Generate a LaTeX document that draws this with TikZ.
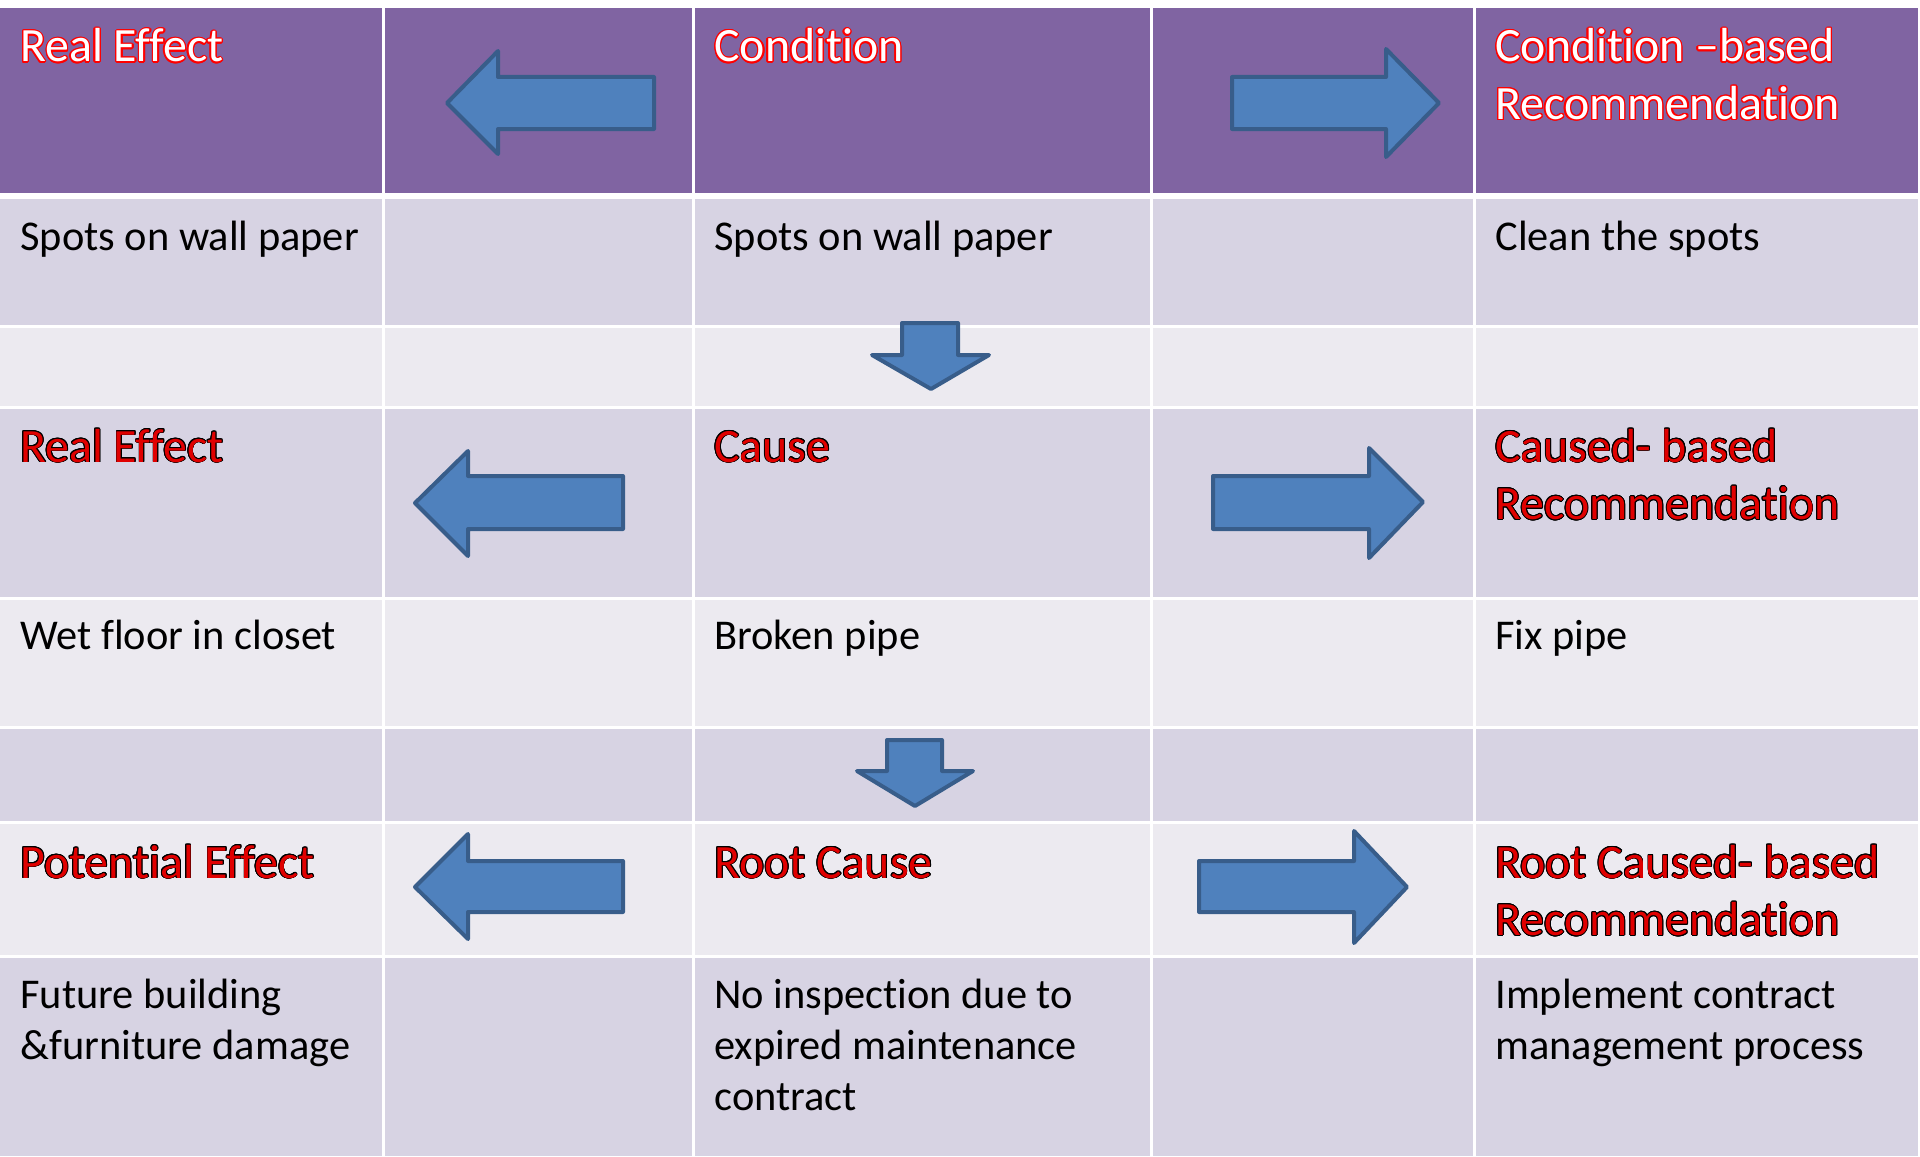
\documentclass[tikz,border=0pt]{standalone}
\usepackage{fontspec}
\setmainfont{Carlito}[Ligatures=NoCommon]
\usepackage[copies]{contour}
\usepackage{tikz}

\definecolor{hdpurple}{HTML}{8064A2}
\definecolor{banddark}{HTML}{D7D3E3}
\definecolor{bandlight}{HTML}{ECEAF0}
\definecolor{arrowfill}{HTML}{4F81BD}
\definecolor{arrowline}{HTML}{385D8A}
\definecolor{titlered}{HTML}{E00000}

\newcommand{\headline}[1]{{\contourlength{0.7pt}\contour{red}{#1}}}
\newcommand{\titleline}[1]{{\contourlength{0.4pt}\contour{black}{#1}}}

\begin{document}
\begin{tikzpicture}[x=0.5pt, y=-0.5pt,
  headtext/.style={font=\fontsize{23.9}{28.75}\selectfont, text=white, inner sep=0pt, align=left, anchor=base west},
  titletext/.style={font=\fontsize{23.9}{28.75}\selectfont, text=titlered, inner sep=0pt, align=left, anchor=base west},
  celltext/.style={font=\fontsize{21.2}{25.5}\selectfont, text=black, inner sep=0pt, align=left, anchor=base west},
  bigarrow/.style={fill=arrowfill, draw=arrowline, line width=2pt, line join=round},
  gridline/.style={draw=white, line width=1.5pt}]
\useasboundingbox (0,0) rectangle (1920,1156);

% rows
\fill[hdpurple] (0,8) rectangle (1918,196);
\fill[banddark] (0,196) rectangle (1918,326);
\fill[bandlight] (0,326) rectangle (1918,407);
\fill[banddark] (0,407) rectangle (1918,598);
\fill[bandlight] (0,598) rectangle (1918,727);
\fill[banddark] (0,727) rectangle (1918,822);
\fill[bandlight] (0,822) rectangle (1918,956);
\fill[banddark] (0,956) rectangle (1918,1156);

% white grid
\draw[gridline, line width=3pt] (0,196) -- (1918,196);
\draw[gridline] (0,326) -- (1918,326);
\draw[gridline] (0,407) -- (1918,407);
\draw[gridline] (0,598) -- (1918,598);
\draw[gridline] (0,727) -- (1918,727);
\draw[gridline] (0,822) -- (1918,822);
\draw[gridline] (0,956) -- (1918,956);
\draw[gridline] (383,8) -- (383,1156);
\draw[gridline] (693,8) -- (693,1156);
\draw[gridline] (1151,8) -- (1151,1156);
\draw[gridline] (1474,8) -- (1474,1156);

% arrows
\draw[bigarrow] (447,103) -- (498,51) -- (498,77) -- (654,77) -- (654,129) -- (498,129) -- (498,154) -- cycle;
\draw[bigarrow] (1232,77) -- (1386,77) -- (1386,49) -- (1439,103) -- (1386,157) -- (1386,129) -- (1232,129) -- cycle;
\draw[bigarrow] (902,323) -- (958,323) -- (958,355) -- (989,355) -- (931,389) -- (872,355) -- (902,355) -- cycle;
\draw[bigarrow] (415,503) -- (468,451) -- (468,476) -- (623,476) -- (623,529) -- (468,529) -- (468,556) -- cycle;
\draw[bigarrow] (1213,476) -- (1369,476) -- (1369,448) -- (1423,502) -- (1369,558) -- (1369,529) -- (1213,529) -- cycle;
\draw[bigarrow] (887,740) -- (942,740) -- (942,771) -- (973,771) -- (915,806) -- (857,771) -- (887,771) -- cycle;
\draw[bigarrow] (415,887) -- (468,834) -- (468,861) -- (623,861) -- (623,912) -- (468,912) -- (468,939) -- cycle;
\draw[bigarrow] (1199,861) -- (1354,861) -- (1354,831) -- (1407,887) -- (1354,943) -- (1354,912) -- (1199,912) -- cycle;

% header (multi-line nodes sit on their last baseline)
\node[headtext] (effect) at (20,62) {\headline{Real Effect}};
\node[headtext] (condition) at (714,62) {\headline{Condition}};
\node[headtext] (condrec) at (1495,119.5) {\headline{Condition –based}\\\headline{Recommendation}};

\node[celltext] (effect1) at (20,250) {Spots on wall paper};
\node[celltext] (condition1) at (714,250) {Spots on wall paper};
\node[celltext] (condrec1) at (1495,250) {Clean the spots};

\node[titletext] (realeffect) at (20,462) {\titleline{Real Effect}};
\node[titletext] (cause) at (714,462) {\titleline{Cause}};
\node[titletext] (causerec) at (1495,519.5) {\titleline{Caused- based}\\\titleline{Recommendation}};

\node[celltext] (realeffect1) at (20,649) {Wet floor in closet};
\node[celltext] (cause1) at (714,649) {Broken pipe};
\node[celltext] (causerec1) at (1495,649) {Fix pipe};

\node[titletext] (poteffect) at (20,878) {\titleline{Potential Effect}};
\node[titletext] (rootcause) at (714,878) {\titleline{Root Cause}};
\node[titletext] (rootrec) at (1495,935.5) {\titleline{Root Caused- based}\\\titleline{Recommendation}};

\node[celltext] (poteffect1) at (20,1059) {Future building\\\&furniture damage};
\node[celltext] (rootcause1) at (714,1110) {No inspection due to\\expired maintenance\\contract};
\node[celltext] (rootrec1) at (1495,1059) {Implement contract\\management process};
\end{tikzpicture}
\end{document}
